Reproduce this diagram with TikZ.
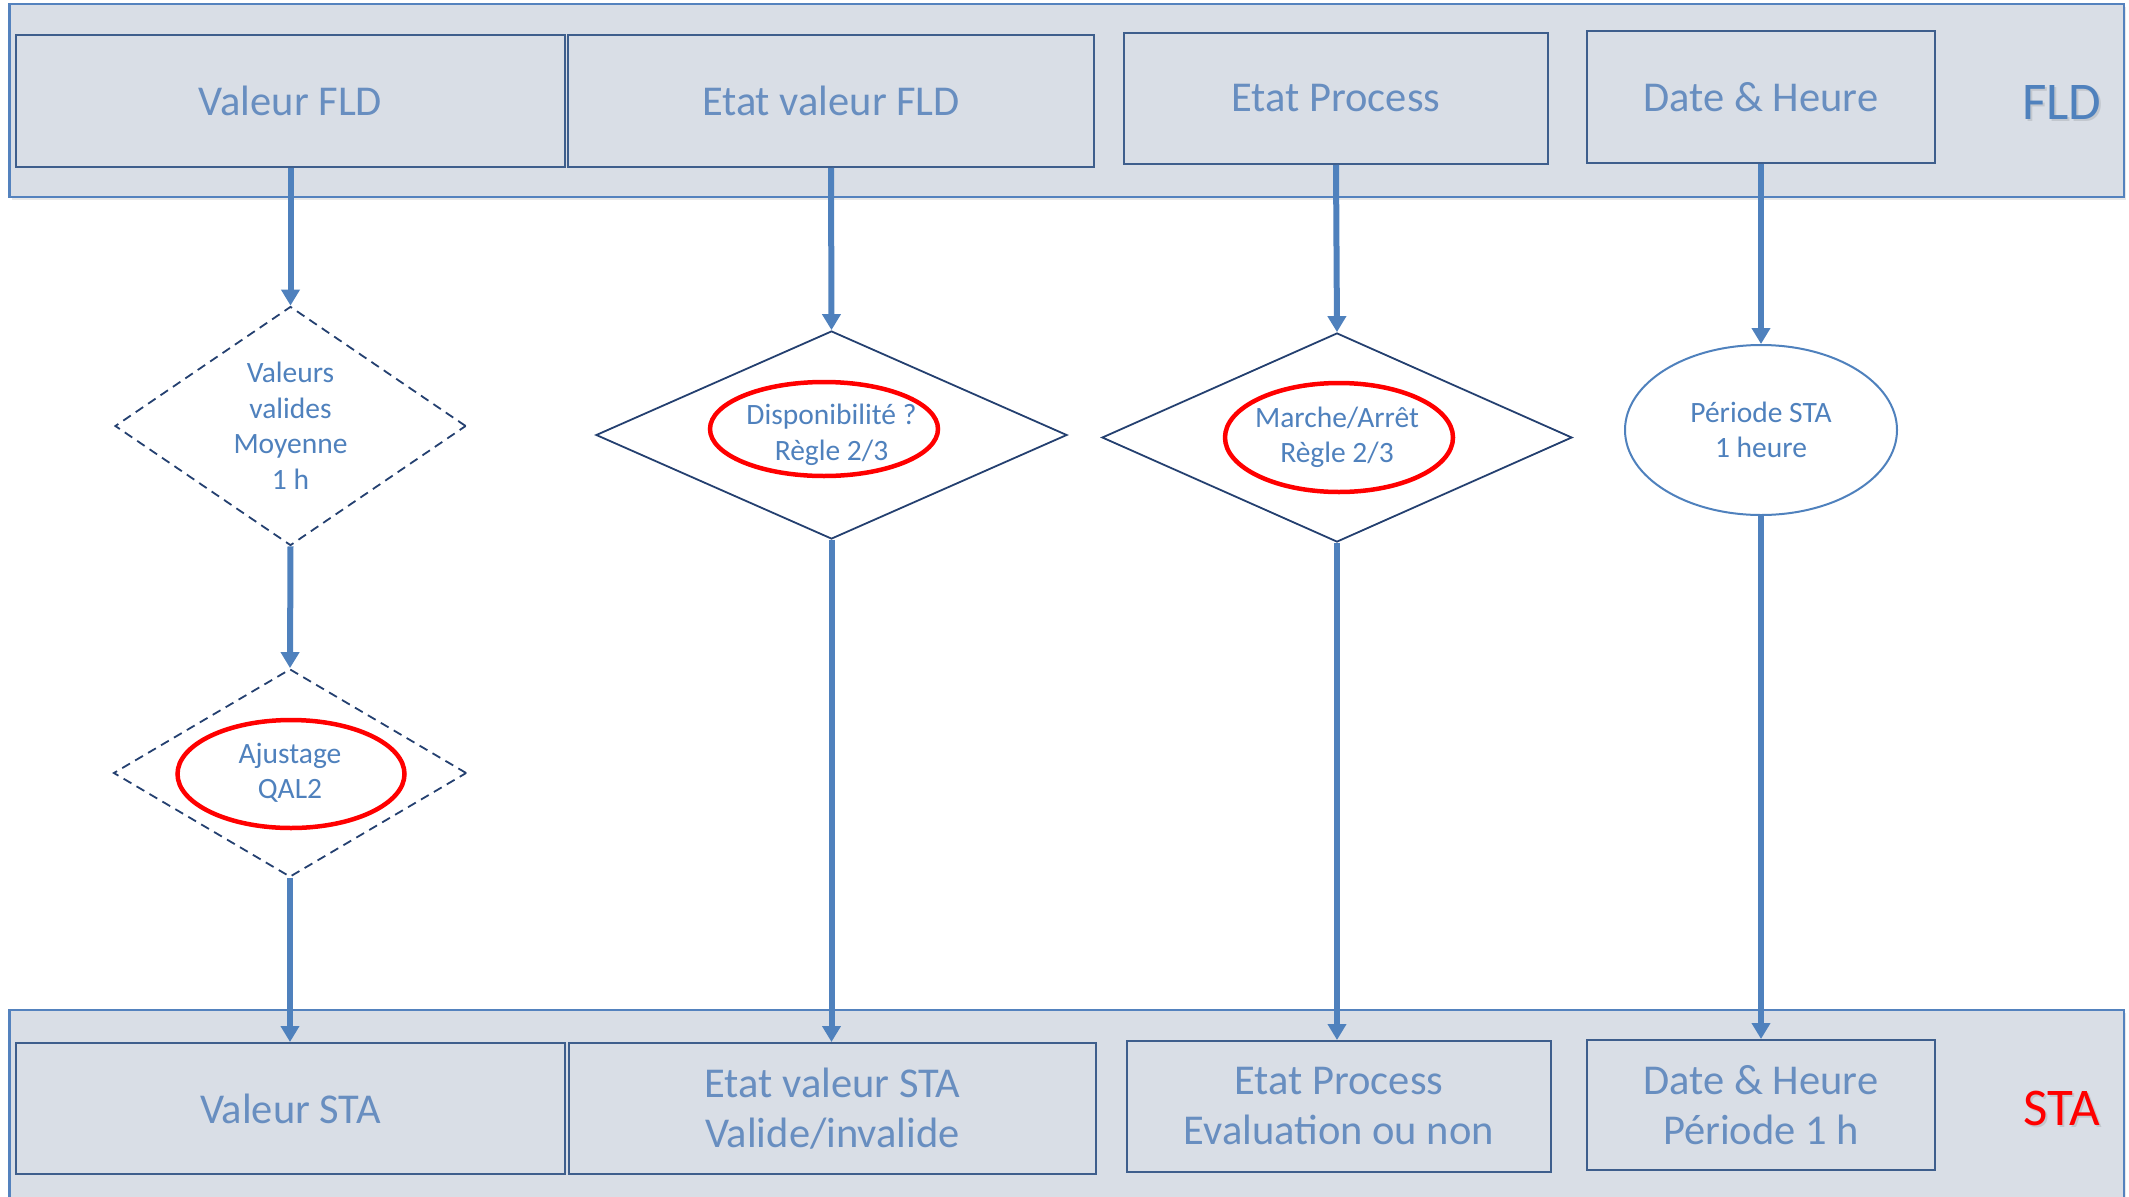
\documentclass[tikz,border=0pt]{standalone}
\usepackage{fontspec}
\setmainfont{Carlito}
\usetikzlibrary{shapes.geometric,arrows.meta,shadows}

\definecolor{bandfill}{RGB}{217,222,230}
\definecolor{bandline}{RGB}{84,130,190}
\definecolor{boxline}{RGB}{62,94,140}
\definecolor{boxtext}{RGB}{104,142,192}
\definecolor{flowblue}{RGB}{79,129,189}
\definecolor{navy}{RGB}{36,64,112}
\definecolor{alertred}{RGB}{255,0,0}

\begin{document}
\begin{tikzpicture}[x=1pt,y=-1pt,
  band/.style={draw=bandline,line width=2.5pt,fill=bandfill,
    drop shadow={opacity=0.18,shadow xshift=2pt,shadow yshift=-3pt}},
  field/.style={draw=boxline,line width=2pt,fill=bandfill,text=boxtext,
    font=\fontsize{42.5}{50}\selectfont,align=center,inner sep=0pt},
  decision/.style={diamond,draw=navy,line width=1.8pt,fill=white,text=flowblue,
    font=\fontsize{29.5}{35.5}\selectfont,align=center,inner sep=0pt},
  soft/.style={dash pattern=on 9pt off 6pt},
  period/.style={ellipse,draw=flowblue,line width=2pt,fill=white,text=flowblue,
    font=\fontsize{29.5}{35.5}\selectfont,align=center,inner sep=0pt},
  ring/.style={ellipse,draw=alertred,line width=4.5pt,inner sep=0pt},
  flow/.style={draw=flowblue,line width=6pt,-{Triangle[width=18pt,length=16pt]}},
  tag/.style={font=\fontsize{53}{60}\selectfont,inner sep=0pt},
  tagshadow/.style={tag,text=black,text opacity=0.1}
]
\useasboundingbox (0,0) rectangle (2129,1197);

% bands
\path[band] (9.5,4) rectangle (2124,197);
\path[band] (9.5,1010) rectangle (2124,1215);

% FLD fields
\node[field,minimum width=549pt,minimum height=132pt] (vfld) at (290.5,101) {Valeur FLD};
\node[field,minimum width=526pt,minimum height=132pt] (efld) at (831,101) {Etat valeur FLD};
\node[field,minimum width=424pt,minimum height=131pt] (pfld) at (1336,98.5) {Etat Process};
\node[field,minimum width=348pt,minimum height=132pt] (dfld) at (1761,97) {Date \& Heure};
\node[tagshadow] (fldshadow) at (2064,104.5) {FLD};
\node[tag,text=flowblue] (fldtag) at (2062,102) {FLD};

% STA fields
\node[field,minimum width=549pt,minimum height=131pt] (vsta) at (290.5,1108.5) {Valeur STA};
\node[field,minimum width=527pt,minimum height=131pt] (esta) at (832.5,1108.5) {Etat valeur STA\\Valide/invalide};
\node[field,minimum width=424pt,minimum height=131pt] (psta) at (1339,1106.5) {Etat Process\\Evaluation ou non};
\node[field,minimum width=348pt,minimum height=130pt] (dsta) at (1761,1105) {Date \& Heure\\Période 1 h};
\node[tagshadow] (stashadow) at (2064,1110.5) {STA};
\node[tag,text=alertred] (statag) at (2062,1108) {STA};

% processing steps
\node[decision,soft,aspect=1.47,minimum width=351pt,minimum height=239pt] (moy) at (290.5,426)
  {Valeurs\\valides\\Moyenne\\1 h};
\node[decision,soft,aspect=1.7,minimum width=353pt,minimum height=208pt] (ajust) at (290,773)
  {Ajustage\\QAL2};
\node[decision,aspect=2.26,minimum width=471pt,minimum height=208pt] (disp) at (831.5,435)
  {Disponibilité ?\\Règle 2/3};
\node[decision,aspect=2.26,minimum width=470pt,minimum height=209pt] (marche) at (1337,437.5)
  {Marche/Arrêt\\Règle 2/3};
\node[period,minimum width=272pt,minimum height=170pt] (periode) at (1761,430)
  {Période STA\\1 heure};

% highlighted rules
\node[ring,minimum width=227pt,minimum height=108pt] (ajustring) at (291,774) {};
\node[ring,minimum width=228pt,minimum height=94pt] (dispring) at (824,429) {};
\node[ring,minimum width=228pt,minimum height=109pt] (marchering) at (1339,437.5) {};

% flows
\draw[flow] (vfld.south) -- (moy.north);
\draw[flow] (moy.south) -- (ajust.north);
\draw[flow] (ajust.south) -- (ajust.south |- vsta.north);
\draw[flow] (efld.south) -- (disp.north);
\draw[flow] (disp.south) -- (disp.south |- esta.north);
\draw[flow] (pfld.south) -- (marche.north);
\draw[flow] (marche.south) -- (marche.south |- psta.north);
\draw[flow] (dfld.south) -- (periode.north);
\draw[flow] (periode.south) -- (periode.south |- dsta.north);
\end{tikzpicture}
\end{document}
